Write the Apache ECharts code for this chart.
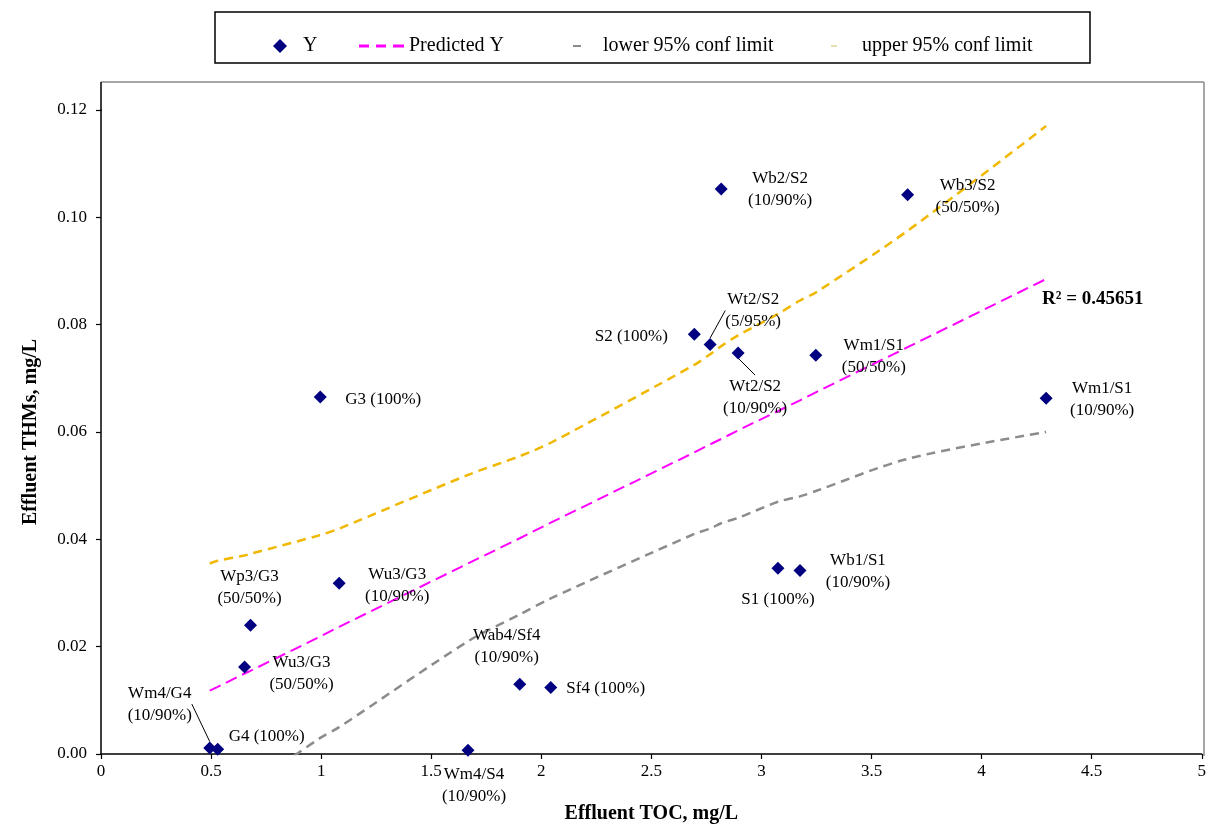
<!DOCTYPE html>
<html>
<head>
<meta charset="utf-8">
<script src="https://cdn.jsdelivr.net/npm/echarts@6/dist/echarts.min.js"></script>
<style>
html,body{margin:0;padding:0;background:#fff;}
#chart{width:1209px;height:829px;}
</style>
</head>
<body>
<div id="chart"></div>
<script>
// ---- data ----
const pointNames = [
  'Wm4/G4\n(10/90%)', 'G4 (100%)', 'Wm4/S4\n(10/90%)', 'Wu3/G3\n(50/50%)', 'Wp3/G3\n(50/50%)',
  'Wu3/G3\n(10/90%)', 'G3 (100%)', 'Wab4/Sf4\n(10/90%)', 'Sf4 (100%)', 'S2 (100%)',
  'Wt2/S2\n(5/95%)', 'Wt2/S2\n(10/90%)', 'Wb2/S2\n(10/90%)', 'Wb3/S2\n(50/50%)', 'Wm1/S1\n(50/50%)',
  'Wm1/S1\n(10/90%)', 'S1 (100%)', 'Wb1/S1\n(10/90%)'
];
const tocX = [0.494, 0.530, 1.667, 0.652, 0.679, 1.082, 0.996, 1.902, 2.043, 2.695,
              2.767, 2.894, 2.817, 3.664, 3.247, 4.293, 3.075, 3.175];
const thmY = [0.0011, 0.0009, 0.0007, 0.0162, 0.0240, 0.0318, 0.0665, 0.0130, 0.0124, 0.0782,
              0.0763, 0.0747, 0.1053, 0.1042, 0.0743, 0.0663, 0.0346, 0.0342];

const fitX       = [0.494, 0.530, 0.652, 0.679, 0.996, 1.082, 1.667, 1.902, 2.043, 2.695, 2.767, 2.817, 2.894, 3.075, 3.175, 3.247, 3.664, 4.293];
const predictedY = [0.0118, 0.0125, 0.0150, 0.0155, 0.0219, 0.0237, 0.0355, 0.0402, 0.0431, 0.0562, 0.0577, 0.0587, 0.0603, 0.0639, 0.0659, 0.0674, 0.0758, 0.0885];
const lowerY     = [-0.0120, -0.0110, -0.0070, -0.0060, 0.0030, 0.0050, 0.0210, 0.0260, 0.0290, 0.0410, 0.0420, 0.0430, 0.0440, 0.0470, 0.0480, 0.0490, 0.0550, 0.0600];
const upperY     = [0.0355, 0.0360, 0.0370, 0.0373, 0.0408, 0.0420, 0.0520, 0.0555, 0.0580, 0.0725, 0.0745, 0.0760, 0.0780, 0.0820, 0.0845, 0.0860, 0.0975, 0.1170];

const seriesNames = ['Y', 'Predicted Y', 'lower 95% conf limit', 'upper 95% conf limit'];
const r2Text = 'R² = 0.45651';
const xAxisTitle = 'Effluent TOC, mg/L';
const yAxisTitle = 'Effluent THMs, mg/L';

// ---- label placement (pixel offsets of label centre from the marker) ----
const labelOffsets = [[-50,-44],[49,-13],[6,35],[57,6],[-1,-38],[58,2],[63,2],[-13,-38],[55,1],[-63,2],
                      [43,-34],[17,44],[59,1],[60,2],[58,1],[56,1],[0,31],[58,1]];
const leaderIdx = [0, 10, 11];

const FONT = 'Liberation Serif, Times New Roman, serif';

const scatterData = tocX.map((x, i) => {
  const item = { value: [x, thmY[i]], name: pointNames[i] };
  if (leaderIdx.indexOf(i) >= 0) {
    item.labelLine = { show: true, lineStyle: { color: '#000', width: 1 } };
  }
  return item;
});
const pairs = (ys) => fitX.map((x, i) => [x, ys[i]]);

const chart = echarts.init(document.getElementById('chart'), null, { renderer: 'canvas' });
const legendBase = {
  top: 30, orient: 'horizontal', itemHeight: 14, selectedMode: false,
  textStyle: { fontFamily: FONT, fontSize: 20, color: '#000', lineHeight: 22 }
};
const dashIcon = 'path://M0,0h10v3h-10z M17,0h10v3h-10z M34,0h11v3h-11z';
chart.setOption({
  animation: false,
  backgroundColor: '#fff',
  grid: { left: 101, right: 5, top: 110, bottom: 73, containLabel: false },
  legend: [
    Object.assign({}, legendBase, { left: 268, itemWidth: 14, itemHeight: 14,
      data: [{ name: seriesNames[0], icon: 'diamond', itemStyle: { color: '#000080', opacity: 1 } }],
      textStyle: Object.assign({}, legendBase.textStyle, { padding: [0, 0, 0, 11] }) }),
    Object.assign({}, legendBase, { left: 354, itemWidth: 45, itemHeight: 3,
      data: [{ name: seriesNames[1], icon: dashIcon, itemStyle: { color: '#ff00ff' },
               lineStyle: { width: 0, opacity: 0 } }] }),
    Object.assign({}, legendBase, { left: 568, itemWidth: 8, itemHeight: 2, data: [{ name: seriesNames[2], icon: 'rect' }],
      textStyle: Object.assign({}, legendBase.textStyle, { padding: [0, 0, 0, 17] }) }),
    Object.assign({}, legendBase, { left: 826, itemWidth: 6, itemHeight: 2,
      data: [{ name: seriesNames[3], icon: 'rect', itemStyle: { color: '#e8e0b0' } }],
      textStyle: Object.assign({}, legendBase.textStyle, { padding: [0, 0, 0, 20] }) })
  ],
  xAxis: {
    type: 'value', min: 0, max: 5, interval: 0.5,
    name: xAxisTitle, nameLocation: 'middle', nameGap: 50,
    nameTextStyle: { fontFamily: FONT, fontSize: 20, fontWeight: 'bold', color: '#000' },
    axisLine: { show: true, onZero: false, lineStyle: { color: '#000', width: 1.5 } },
    axisTick: { show: true, length: 5, lineStyle: { color: '#000', width: 1.2 } },
    axisLabel: { fontFamily: FONT, fontSize: 17, color: '#000', margin: 9 },
    splitLine: { show: false }
  },
  yAxis: {
    type: 'value', min: 0, max: 0.12, interval: 0.02,
    name: yAxisTitle, nameLocation: 'middle', nameGap: 60, nameRotate: 90,
    nameTextStyle: { fontFamily: FONT, fontSize: 20, fontWeight: 'bold', color: '#000' },
    axisLine: { show: true, onZero: false, lineStyle: { color: '#000', width: 1.5 } },
    axisTick: { show: true, length: 5, lineStyle: { color: '#000', width: 1.2 } },
    axisLabel: { fontFamily: FONT, fontSize: 17, color: '#000', margin: 14, formatter: v => v.toFixed(2) },
    splitLine: { show: false }
  },
  graphic: [
    { type: 'line', shape: { x1: 101, y1: 82, x2: 1204, y2: 82 }, style: { stroke: '#8a8a8a', lineWidth: 1.5 }, silent: true },
    { type: 'line', shape: { x1: 1204, y1: 82, x2: 1204, y2: 756 }, style: { stroke: '#8a8a8a', lineWidth: 1.5 }, silent: true },
    { type: 'line', shape: { x1: 101, y1: 82, x2: 101, y2: 111 }, style: { stroke: '#000', lineWidth: 1.5 }, silent: true },
    { type: 'rect', shape: { x: 215, y: 12, width: 875, height: 51 }, style: { fill: 'none', stroke: '#000', lineWidth: 1.5 }, silent: true },
    { type: 'text', left: 1042, top: 290, style: { text: r2Text, fontFamily: FONT, fontSize: 19, fontWeight: 'bold', fill: '#000' }, silent: true }
  ],
  series: [
    {
      name: seriesNames[2], type: 'line', data: pairs(lowerY), showSymbol: false, smooth: 0.3, clip: true,
      color: '#8c8c8c',
      lineStyle: { color: '#8c8c8c', width: 2.5, type: [9, 6] }, z: 2
    },
    {
      name: seriesNames[3], type: 'line', data: pairs(upperY), showSymbol: false, smooth: 0.3, clip: true,
      color: '#f0b800',
      lineStyle: { color: '#f0b800', width: 2.5, type: [9, 6] }, z: 2
    },
    {
      name: seriesNames[1], type: 'line', data: pairs(predictedY), showSymbol: false, clip: true,
      color: '#ff00ff',
      lineStyle: { color: '#ff00ff', width: 2, type: [12, 6] }, z: 3
    },
    {
      name: seriesNames[0], type: 'scatter', data: scatterData, symbol: 'diamond', symbolSize: 13,
      color: '#000080', itemStyle: { color: '#000080', opacity: 1 }, z: 5,
      label: {
        show: true, position: 'inside', formatter: p => p.name,
        fontFamily: FONT, fontSize: 17, lineHeight: 22, color: '#000', align: 'center', verticalAlign: 'middle'
      },
      labelLine: { show: false },
      labelLayout: p => ({ dx: labelOffsets[p.dataIndex][0], dy: labelOffsets[p.dataIndex][1], hideOverlap: false })
    }
  ]
});
</script>
</body>
</html>
